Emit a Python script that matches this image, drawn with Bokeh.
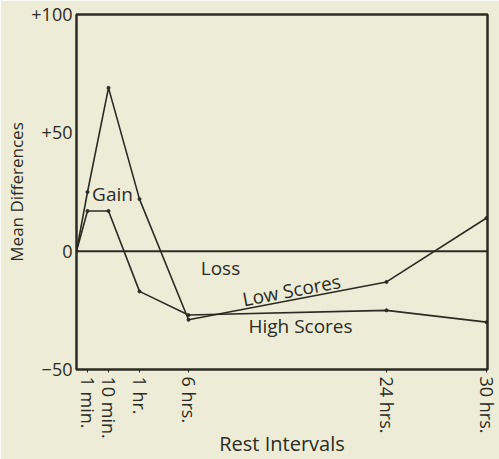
import math
from bokeh.plotting import figure
from bokeh.models import FixedTicker, Label, Range1d, Span
from bokeh.embed import file_html
from bokeh.resources import INLINE

# ---- data ----
intervals = ["", "1 min.", "10 min.", "1 hr.", "6 hrs.", "24 hrs.", "30 hrs."]
interval_axis_pos = [0, 11, 32, 63, 112, 310, 410]   # printed (non-linear) axis scale
low_scores = [0, 25, 69, 22, -29, -13, 14]
high_scores = [0, 17, 17, -17, -27, -25, -30]
y_ticks = [-50, 0, 50, 100]
y_tick_labels = ["\u221250", "0", "+50", "+100"]

INK = "#2b2b24"
PAPER = "#ededd7"
FONT = "Open Sans"

p = figure(width=499, height=459, output_backend="svg", toolbar_location=None,
           x_range=Range1d(0, 411), y_range=Range1d(-50, 100),
           min_border_left=76, min_border_top=14, min_border_right=12, min_border_bottom=89)
p.background_fill_color = PAPER
p.border_fill_color = PAPER
p.outline_line_color = INK
p.outline_line_width = 2.5
p.xgrid.visible = False
p.ygrid.visible = False

# x axis
p.xaxis.ticker = FixedTicker(ticks=interval_axis_pos[1:])
p.xaxis.major_label_overrides = {pos: lab for pos, lab in zip(interval_axis_pos[1:], intervals[1:])}
p.xaxis.major_label_orientation = -math.pi / 2
p.xaxis.major_label_text_font = FONT
p.xaxis.major_label_text_font_size = "18px"
p.xaxis.major_label_text_color = INK
p.xaxis.major_label_standoff = 4
p.xaxis.axis_line_color = None
p.xaxis.major_tick_line_color = INK
p.xaxis.major_tick_in = 0
p.xaxis.major_tick_out = 3
p.xaxis.minor_tick_line_color = None
p.xaxis.axis_label = "Rest Intervals"
p.xaxis.axis_label_text_font = FONT
p.xaxis.axis_label_text_font_style = "normal"
p.xaxis.axis_label_text_font_size = "20px"
p.xaxis.axis_label_text_color = INK
p.xaxis.axis_label_standoff = -12

# y axis
p.yaxis.ticker = FixedTicker(ticks=y_ticks)
p.yaxis.major_label_overrides = {t: s for t, s in zip(y_ticks, y_tick_labels)}
p.yaxis.major_label_text_font = FONT
p.yaxis.major_label_text_font_size = "18px"
p.yaxis.major_label_text_color = INK
p.yaxis.major_label_standoff = 4
p.yaxis.axis_line_color = None
p.yaxis.major_tick_line_color = None
p.yaxis.major_tick_out = 0
p.yaxis.major_tick_in = 0
p.yaxis.minor_tick_line_color = None
p.yaxis.minor_tick_out = 0
p.yaxis.axis_label = "Mean Differences"
p.yaxis.axis_label_text_font = FONT
p.yaxis.axis_label_text_font_style = "normal"
p.yaxis.axis_label_text_font_size = "17px"
p.yaxis.axis_label_text_color = INK
p.yaxis.axis_label_standoff = 0

# zero line
p.add_layout(Span(location=0, dimension="width", line_color=INK, line_width=2))

# series
for ys in (low_scores, high_scores):
    p.line(interval_axis_pos, ys, line_color=INK, line_width=1.6)
    p.scatter(interval_axis_pos, ys, size=3, color=INK)

def lab(x, y, text, angle=0.0, size="19px", **kw):
    p.add_layout(Label(x=x, y=y, text=text, angle=angle, text_font=FONT,
                       text_font_size=size, text_color=INK, text_align="center",
                       text_baseline="middle", **kw))

lab(36, 24, "Gain")
lab(144, -7, "Loss")
lab(215, -16.5, "Low Scores", angle=0.19)
lab(224, -31.6, "High Scores")

open("out.html", "w").write(file_html(p, INLINE))
